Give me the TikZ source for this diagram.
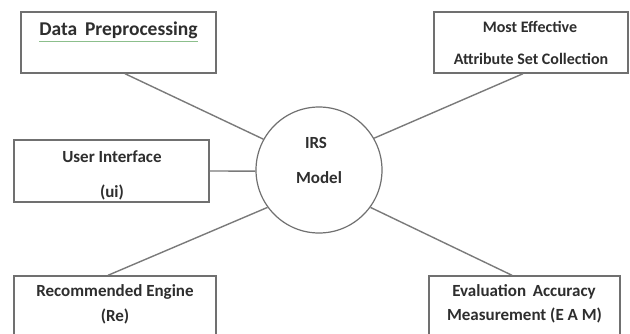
\documentclass[tikz,border=0pt]{standalone}
\usepackage{fontspec}
\setmainfont{Carlito}
\definecolor{txt}{HTML}{2E2E2E}
\definecolor{edge}{HTML}{707070}
\definecolor{wire}{HTML}{7A7A7A}
\definecolor{spell}{HTML}{8CBF8C}
\tikzset{
  boxnode/.style={draw=edge, line width=1.4pt, rectangle, inner sep=0pt},
  lbl/.style={text=txt, font=\fontsize{17}{20}\selectfont\bfseries, inner sep=0pt},
  smalllbl/.style={lbl, font=\fontsize{16}{19}\selectfont\bfseries},
  wireline/.style={draw=wire, line width=1.4pt},
}
\begin{document}
\begin{tikzpicture}[x=1pt,y=-1pt]
\useasboundingbox (0,0) rectangle (630,333);
\clip (0,0) rectangle (630,333);
\fill[white] (0,0) rectangle (630,333);
% boxes
\node[boxnode, minimum width=195pt, minimum height=61pt] (dp) at (118.5,42.5) {};
\node[boxnode, minimum width=194pt, minimum height=61pt] (me) at (531,42.5) {};
\node[boxnode, minimum width=195pt, minimum height=62pt] (ui) at (111.5,171) {};
\node[boxnode, minimum width=202pt, minimum height=70pt] (re) at (115,311) {};
\node[boxnode, minimum width=191pt, minimum height=70pt] (eam) at (524.5,311) {};
\node[draw=edge, line width=1.2pt, circle, minimum size=126pt, inner sep=0pt] (irs) at (319,170) {};
% texts
\node[lbl, font=\fontsize{19.5}{22}\selectfont\bfseries] (tdp) at (118.5,30) {Data\, Preprocessing};
\draw[spell, line width=0.8pt] ([yshift=-3pt]tdp.south west) -- ([yshift=-3pt]tdp.south east);
\node[smalllbl] (tme1) at (530,27) {Most Effective};
\node[smalllbl] (tme2) at (531,59) {Attribute Set Collection};
\node[lbl] (tui1) at (112,157) {User Interface};
\node[lbl] (tui2) at (112,192) {(ui)};
\node[lbl] (tre1) at (115,292) {Recommended Engine};
\node[lbl] (tre2) at (115,316) {(Re)};
\node[lbl] (team1) at (524,292) {Evaluation\, Accuracy};
\node[lbl] (team2) at (524.5,315) {Measurement (E A M)};
\node[lbl] (tirs1) at (316,143) {IRS};
\node[lbl] (tirs2) at (319,178) {Model};
% connectors
\draw[wireline] ([xshift=6.5pt]dp.south) -- (irs.151.5);
\draw[wireline] ([xshift=-8pt]me.south) -- (irs.30);
\draw[wireline] (ui.east) -- (irs.181);
\draw[wireline] ([xshift=-7pt]re.north) -- (irs.216);
\draw[wireline] ([xshift=-12.5pt]eam.north) -- (irs.324);
\end{tikzpicture}
\end{document}
